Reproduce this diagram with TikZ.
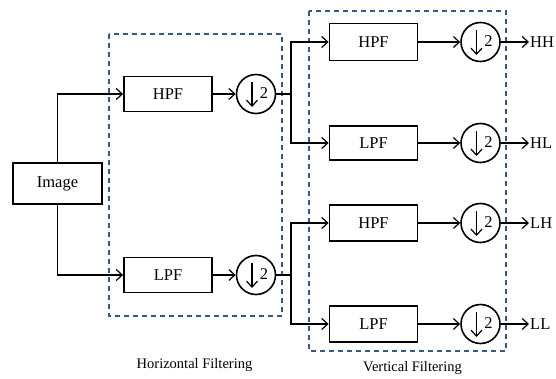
\documentclass[tikz,border=0pt]{standalone}
\usepackage{fontspec}
\setmainfont{Liberation Serif}
\usetikzlibrary{arrows.meta}
\definecolor{dashblue}{RGB}{52,88,138}
\begin{document}
\begin{tikzpicture}[x=1pt,y=-1pt,
  blk/.style={draw,line width=1.8pt,minimum width=88pt,minimum height=35pt,inner sep=0pt,font=\fontsize{16.5}{18}\selectfont},
  ds/.style={draw,circle,line width=1.6pt,minimum size=39pt,inner sep=0pt,
    path picture={
      \draw[line width=1.2pt,-{Straight Barb[length=6pt,width=11pt]}] ([xshift=-4pt,yshift=12pt]path picture bounding box.center) -- ++(0,-25pt);
      \node[font=\fontsize{16.5}{18}\selectfont] at ([xshift=8pt,yshift=1pt]path picture bounding box.center) {2};
    }},
  conn/.style={line width=1.2pt},
  arr/.style={line width=1.2pt,-{Straight Barb[length=6pt,width=11pt,line width=1.2pt]}},
  grp/.style={draw=dashblue,line width=1.3pt,dash pattern=on 5pt off 4pt},
  outl/.style={anchor=west,inner sep=1pt,font=\fontsize{16.5}{18}\selectfont},
  captext/.style={font=\fontsize{14.5}{16}\selectfont}
]
\useasboundingbox (0,0) rectangle (556,379);
% groups
\draw[grp] (109,34) rectangle (282,316);
\draw[grp] (309,11) rectangle (506,351);
% nodes
\node[blk,minimum width=89pt,minimum height=41pt] (img) at (57.5,183.5) {Image};
\node[blk] (hpf1) at (168,94) {HPF};
\node[blk] (lpf1) at (168,275) {LPF};
\node[ds] (c1) at (256,94) {};
\node[ds] (c2) at (256,275) {};
\coordinate (j1) at (291,94);
\coordinate (j2) at (291,275);
\node[blk,minimum height=37pt] (hpf2) at (373.5,42) {HPF};
\node[blk,minimum height=34pt] (lpf2) at (373.5,143) {LPF};
\node[blk,minimum height=36pt] (hpf3) at (373.5,223) {HPF};
\node[blk,minimum height=36pt] (lpf3) at (373.5,324) {LPF};
\node[ds] (c3) at (480.5,42) {};
\node[ds] (c4) at (480.5,143) {};
\node[ds] (c5) at (480.5,223) {};
\node[ds] (c6) at (480.5,324) {};
\node[outl] (hh) at (529,42) {HH};
\node[outl] (hl) at (529,143) {HL};
\node[outl] (lh) at (529,223) {LH};
\node[outl] (ll) at (529,324) {LL};
\node[captext] (hcap) at (194.5,365) {Horizontal Filtering};
\node[captext] (vcap) at (412.5,368) {Vertical Filtering};
% connectors
\draw[arr] (img.north) |- (hpf1.west);
\draw[arr] (img.south) |- (lpf1.west);
\draw[arr] (hpf1) -- (c1);
\draw[arr] (lpf1) -- (c2);
\draw[conn] (c1.east) -- (j1);
\draw[conn] (c2.east) -- (j2);
\draw[arr] (j1) |- (hpf2.west);
\draw[arr] (j1) |- (lpf2.west);
\draw[arr] (j2) |- (hpf3.west);
\draw[arr] (j2) |- (lpf3.west);
\draw[arr] (hpf2) -- (c3);
\draw[arr] (lpf2) -- (c4);
\draw[arr] (hpf3) -- (c5);
\draw[arr] (lpf3) -- (c6);
\draw[arr] (c3.east) -- (hh.west);
\draw[arr] (c4.east) -- (hl.west);
\draw[arr] (c5.east) -- (lh.west);
\draw[arr] (c6.east) -- (ll.west);
\end{tikzpicture}
\end{document}
